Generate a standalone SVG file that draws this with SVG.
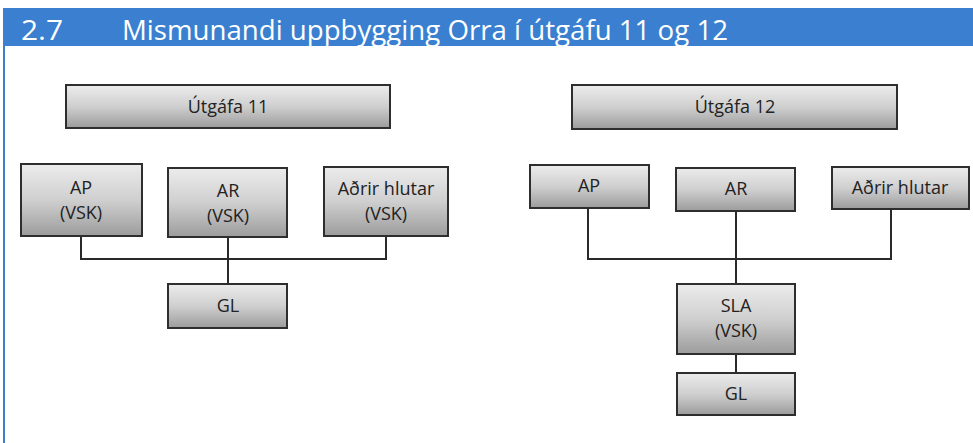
<svg xmlns="http://www.w3.org/2000/svg" width="973" height="443" viewBox="0 0 973 443">
<defs>
<linearGradient id="g" x1="0" y1="0" x2="0" y2="1">
<stop offset="0" stop-color="#ececec"/>
<stop offset="0.5" stop-color="#cfcfcf"/>
<stop offset="1" stop-color="#9c9c9c"/>
</linearGradient>
</defs>
<style>
.box{fill:url(#g);stroke:#2e2e2e;stroke-width:2}
.t{font-family:"Open Sans","Noto Sans",sans-serif;font-size:18px;fill:#222;text-anchor:middle}
.c{fill:none;stroke:#2a2a2a;stroke-width:2}
.h{font-family:"Open Sans","Noto Sans",sans-serif;font-size:28px;fill:#fff}
</style>
<rect x="0" y="0" width="973" height="443" fill="#fff"/>
<rect x="3" y="8" width="970" height="38" fill="#3a7fd0"/>
<rect x="3" y="46" width="2" height="397" fill="#3a7fd0"/>
<text class="h" x="21" y="40" textLength="42" lengthAdjust="spacingAndGlyphs">2.7</text>
<text class="h" x="122" y="40" textLength="606" lengthAdjust="spacingAndGlyphs">Mismunandi uppbygging Orra í útgáfu 11 og 12</text>
<g id="connectors">
<polyline class="c" points="81,236 81,259 386,259 386,234"/>
<line class="c" x1="228" y1="237" x2="228" y2="284"/>
<polyline class="c" points="588,208 588,259 891,259 891,207"/>
<line class="c" x1="736" y1="211" x2="736" y2="284"/>
<line class="c" x1="736" y1="354" x2="736" y2="373"/>
</g>
<g id="v11"><rect class="box" x="66" y="85" width="324" height="43"/><text class="t" x="228" y="113">Útgáfa 11</text></g>
<g id="ap11"><rect class="box" x="21" y="164" width="121" height="72"/><text class="t" x="81" y="194">AP</text><text class="t" x="81" y="219">(VSK)</text></g>
<g id="ar11"><rect class="box" x="168" y="168" width="119" height="69"/><text class="t" x="228" y="197">AR</text><text class="t" x="228" y="222">(VSK)</text></g>
<g id="adrir11"><rect class="box" x="324" y="167" width="124" height="69"/><text class="t" x="386" y="195">Aðrir hlutar</text><text class="t" x="386" y="220">(VSK)</text></g>
<g id="gl11"><rect class="box" x="168" y="284" width="119" height="44"/><text class="t" x="228" y="312">GL</text></g>
<g id="v12"><rect class="box" x="572" y="85" width="325" height="44"/><text class="t" x="735" y="113">Útgáfa 12</text></g>
<g id="ap12"><rect class="box" x="530" y="165" width="119" height="43"/><text class="t" x="589" y="192">AP</text></g>
<g id="ar12"><rect class="box" x="676" y="168" width="119" height="43"/><text class="t" x="736" y="195">AR</text></g>
<g id="adrir12"><rect class="box" x="832" y="167" width="137" height="42"/><text class="t" x="900" y="194">Aðrir hlutar</text></g>
<g id="sla12"><rect class="box" x="677" y="284" width="118" height="70"/><text class="t" x="736" y="312">SLA</text><text class="t" x="736" y="337">(VSK)</text></g>
<g id="gl12"><rect class="box" x="677" y="373" width="118" height="42"/><text class="t" x="736" y="400">GL</text></g>
</svg>
